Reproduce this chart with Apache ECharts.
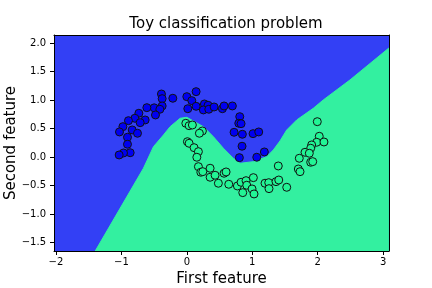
<!DOCTYPE html>
<html><head><meta charset="utf-8">
<script src="https://cdn.jsdelivr.net/npm/echarts@6/dist/echarts.min.js"></script>
<style>html,body{margin:0;padding:0;background:#fff}#c{width:432px;height:288px}</style>
</head><body><div id="c"></div>
<script>
// Class 0 (upper moon, blue)
const class0 = [
[-0.388,1.105],[-0.377,1.023],[-0.214,1.030],[-0.499,0.862],[-0.377,0.895],[-0.412,0.837],
[-0.611,0.865],[-0.733,0.767],[-0.479,0.737],[-0.794,0.679],[-0.637,0.649],[-0.713,0.602],
[-0.892,0.637],[-0.977,0.532],[-1.029,0.439],[-0.835,0.474],[-0.754,0.416],[-0.907,0.346],
[-0.907,0.223],[-0.866,0.075],[-0.968,0.070],[-1.034,0.035],[0.142,1.146],[0.000,1.058],
[0.076,0.988],[0.015,0.847],[0.142,0.889],[0.269,0.930],[0.325,0.907],[0.253,0.825],
[0.336,0.837],[0.417,0.877],[0.544,0.847],[0.569,0.895],[0.696,0.895],[0.809,0.707],
[0.794,0.591],[0.829,0.584],[0.722,0.433],[0.849,0.398],[1.012,0.409],[1.099,0.439],
[0.844,0.188],[1.185,0.088],[1.069,-0.005],[0.803,-0.012]
];
// Class 1 (lower moon, green)
const class1 = [
[-0.015,0.591],[0.035,0.549],[0.085,0.561],[0.238,0.456],[0.192,0.416],[0.009,0.268],
[0.035,0.240],[0.111,0.163],[0.177,0.093],[0.153,-0.005],[0.177,-0.170],[0.356,-0.198],
[1.398,-0.158],[0.214,-0.268],[0.244,-0.258],[0.356,-0.356],[0.432,-0.321],[0.569,-0.286],
[0.600,-0.263],[0.482,-0.461],[0.641,-0.479],[0.773,-0.509],[0.829,-0.444],[0.905,-0.416],
[0.916,-0.496],[0.855,-0.626],[0.997,-0.561],[1.027,-0.649],[1.017,-0.363],[1.195,-0.461],
[1.252,-0.451],[1.256,-0.556],[1.363,-0.433],[1.405,-0.404],[1.994,0.619],[2.024,0.363],
[1.985,0.258],[2.096,0.263],[1.908,0.211],[1.893,0.153],[1.806,0.082],[1.872,0.065],
[1.719,-0.023],[1.893,-0.093],[1.924,-0.082],[1.704,-0.211],[1.730,-0.258],[1.527,-0.532]
];
// Decision boundary (class 1 region lies below)
const boundary = [
[-1.400,-1.65],[-0.663,-0.198],[-0.510,0.181],[-0.357,0.386],[-0.255,0.532],[-0.102,0.679],
[0.000,0.696],[0.253,0.532],[0.406,0.356],[0.559,0.153],[0.711,-0.023],[0.814,-0.111],
[1.017,-0.082],[1.221,0.005],[1.322,0.123],[1.424,0.281],[1.527,0.474],[1.679,0.649],
[1.933,0.854],[2.085,1.000],[2.493,1.351],[3.089,1.912]
];
const xTicks = [-2,-1,0,1,2,3];
const yTicks = [-1.5,-1.0,-0.5,0.0,0.5,1.0,1.5,2.0];
const xRange = [-2.03, 3.09];
const yRange = [-1.65, 2.14];

const FONT = 'DejaVu Sans';
const fmt = (v, d) => { const s = Math.abs(v).toFixed(d); return (v < -1e-9 ? '\u2212' : '') + s; };

const chart = echarts.init(document.getElementById('c'), null, {renderer: 'canvas'});
chart.setOption({
  animation: false,
  backgroundColor: '#fff',
  title: {
    text: 'Toy classification problem', left: 221, top: 12, textAlign: 'center',
    textStyle: {fontFamily: FONT, fontSize: 15, fontWeight: 'normal', color: '#000'}
  },
  grid: {left: 54, right: 43, top: 35, bottom: 37, show: true, backgroundColor: '#3340f5', borderWidth: 0,
    containLabel: false, outerBoundsMode: 'none'},
  xAxis: [{
    type: 'value', min: xRange[0], max: xRange[1], position: 'bottom',
    name: 'First feature', nameLocation: 'middle', nameGap: 21, nameMoveOverlap: false,
    nameTextStyle: {fontFamily: FONT, fontSize: 15, color: '#000'},
    splitLine: {show: false},
    axisLine: {show: true, onZero: false, lineStyle: {color: '#000', width: 1}},
    axisTick: {show: true, length: 4, customValues: xTicks, lineStyle: {color: '#000'}},
    axisLabel: {customValues: xTicks, fontFamily: FONT, fontSize: 10, color: '#000', margin: 6,
      formatter: v => fmt(v, 0)}
  }, {
    type: 'value', min: xRange[0], max: xRange[1], position: 'top',
    axisLine: {show: true, onZero: false, lineStyle: {color: '#000', width: 1}},
    axisTick: {show: false}, axisLabel: {show: false}, splitLine: {show: false}
  }],
  yAxis: [{
    type: 'value', min: yRange[0], max: yRange[1], position: 'left',
    name: 'Second feature', nameLocation: 'middle', nameGap: 35, nameMoveOverlap: false,
    nameTextStyle: {fontFamily: FONT, fontSize: 15, color: '#000'},
    splitLine: {show: false},
    axisLine: {show: true, onZero: false, lineStyle: {color: '#000', width: 1}},
    axisTick: {show: true, length: 4, customValues: yTicks, lineStyle: {color: '#000'}},
    axisLabel: {customValues: yTicks, fontFamily: FONT, fontSize: 10, color: '#000', margin: 8,
      formatter: v => fmt(v, 1)}
  }, {
    type: 'value', min: yRange[0], max: yRange[1], position: 'right',
    axisLine: {show: true, onZero: false, lineStyle: {color: '#000', width: 1}},
    axisTick: {show: false}, axisLabel: {show: false}, splitLine: {show: false}
  }],
  series: [{
    type: 'line', data: boundary, xAxisIndex: 0, yAxisIndex: 0,
    showSymbol: false, symbol: 'none', silent: true, clip: true,
    lineStyle: {color: '#33f0a0', width: 1},
    areaStyle: {color: '#33f0a0', opacity: 1, origin: 'start'},
    z: 1
  }, {
    type: 'scatter', data: class0, symbolSize: 8, z: 3,
    itemStyle: {color: '#0000f0', borderColor: '#111', borderWidth: 1, opacity: 1}
  }, {
    type: 'scatter', data: class1, symbolSize: 8, z: 3,
    itemStyle: {color: '#22f595', borderColor: '#111', borderWidth: 1, opacity: 1}
  }]
});
</script></body></html>
